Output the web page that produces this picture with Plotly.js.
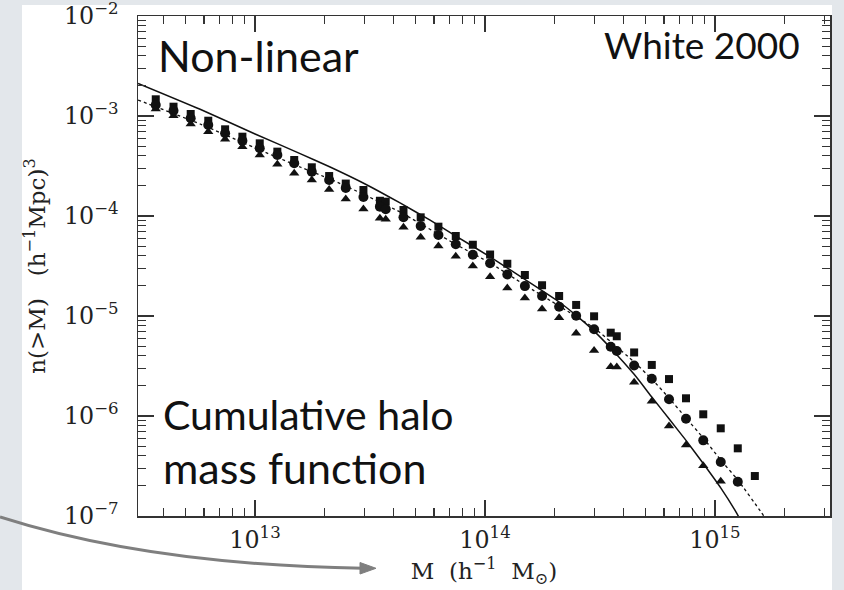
<!DOCTYPE html>
<html>
<head>
<meta charset="utf-8">
<script src="https://cdn.plot.ly/plotly-3.0.1.min.js"></script>
<style>
  html, body { margin: 0; padding: 0; background: #e3e7eb; }
  #chart { width: 844px; height: 590px; }
</style>
</head>
<body>
<div id="chart"></div>
<script>
// Mass bins (h^-1 Msun) of the simulation points (three overlapping boxes)
const massBins = [
  3.70e12, 4.42e12, 5.25e12, 6.26e12, 7.41e12, 8.81e12, 1.048e13, 1.25e13, 1.48e13, 1.765e13, 2.10e13, 2.48e13, 2.96e13, 3.49e13,
  3.70e13, 4.42e13, 5.25e13, 6.27e13, 7.46e13, 8.85e13, 1.052e14, 1.25e14, 1.49e14, 1.77e14, 2.10e14, 2.49e14, 2.98e14, 3.52e14,
  3.74e14, 4.45e14, 5.31e14, 6.31e14, 7.48e14, 8.89e14, 1.059e15, 1.256e15, 1.49e15
];
// n(>M) (h^-1 Mpc)^-3
const squares = [
  1.469e-3, 1.239e-3, 1.047e-3, 8.97e-4, 7.36e-4, 6.21e-4, 5.33e-4, 4.40e-4, 3.63e-4, 3.07e-4, 2.51e-4, 2.11e-4, 1.82e-4, 1.42e-4,
  1.39e-4, 1.148e-4, 9.70e-5, 7.82e-5, 6.31e-5, 5.16e-5, 4.12e-5, 3.33e-5, 2.57e-5, 2.03e-5, 1.585e-5, 1.29e-5, 9.93e-6, 6.81e-6,
  6.27e-6, 4.32e-6, 3.24e-6, 2.34e-6, 1.503e-6, 1.04e-6, 7.53e-7, 4.75e-7, 2.51e-7
];
const circles = [
  1.288e-3, 1.130e-3, 9.48e-4, 8.13e-4, 6.71e-4, 5.66e-4, 4.75e-4, 4.07e-4, 3.37e-4, 2.77e-4, 2.29e-4, 1.91e-4, 1.55e-4, 1.24e-4,
  1.167e-4, 9.70e-5, 7.94e-5, 6.46e-5, 5.22e-5, 4.10e-5, 3.37e-5, 2.60e-5, 1.99e-5, 1.585e-5, 1.239e-5, 1.005e-5, 7.36e-6, 4.93e-6,
  4.47e-6, 3.20e-6, 2.36e-6, 1.469e-6, 9.40e-7, 5.71e-7, 3.47e-7, 2.20e-7, null
];
const triangles = [
  1.175e-3, 1.007e-3, 8.32e-4, 6.97e-4, 5.85e-4, 4.93e-4, 4.07e-4, 3.29e-4, 2.67e-4, 2.29e-4, 1.84e-4, 1.48e-4, 1.175e-4, 9.48e-5,
  9.27e-5, 7.71e-5, 6.12e-5, 5.01e-5, 3.95e-5, 3.17e-5, 2.47e-5, 1.905e-5, 1.514e-5, 1.172e-5, 9.62e-6, 6.71e-6, 4.53e-6, 3.11e-6,
  3.09e-6, 2.18e-6, 1.406e-6, 7.94e-7, 5.13e-7, 3.18e-7, 2.22e-7, null, null
];
// Solid theory curve
const solidMass = [3.10e12, 5.77e12, 1.0e13, 1.57e13, 2.12e13, 3.01e13, 4.27e13, 5.77e13, 7.41e13, 1.052e14, 1.49e14, 2.10e14,
  2.49e14, 2.98e14, 3.53e14, 4.45e14, 5.31e14, 6.31e14, 7.48e14, 8.89e14, 1.059e15, 1.233e15, 1.42e15];
const solidN = [2.12e-3, 1.167e-3, 6.61e-4, 4.21e-4, 3.09e-4, 2.09e-4, 1.35e-4, 9.08e-5, 6.38e-5, 3.90e-5, 2.32e-5, 1.38e-5,
  1.014e-5, 7.06e-6, 4.74e-6, 2.61e-6, 1.549e-6, 9.38e-7, 5.70e-7, 3.35e-7, 1.91e-7, 1.10e-7, 6.03e-8];
// Dotted theory curve
const dottedMass = [3.10e12, 5.77e12, 1.0e13, 1.57e13, 2.12e13, 3.01e13, 4.27e13, 7.41e13, 1.052e14, 1.49e14, 2.10e14, 2.98e14,
  3.53e14, 4.45e14, 5.31e14, 6.31e14, 7.48e14, 8.89e14, 1.059e15, 1.256e15, 1.596e15, 1.82e15];
const dottedN = [1.445e-3, 8.32e-4, 4.79e-4, 3.09e-4, 2.34e-4, 1.62e-4, 1.096e-4, 5.25e-5, 3.39e-5, 2.04e-5, 1.259e-5, 7.59e-6,
  5.50e-6, 3.47e-6, 2.34e-6, 1.514e-6, 9.55e-7, 6.03e-7, 3.63e-7, 2.29e-7, 1.072e-7, 6.76e-8];

const xTitle = 'M\u00a0\u00a0(h<sup>\u22121</sup>\u00a0\u00a0M<sub>\u2299</sub>)';
const yTitle = 'n(>M)\u00a0\u00a0\u00a0(h<sup>\u22121</sup>Mpc)<sup>3</sup>';

// pixel -> paper helpers for decoration placement
const PL = 138, PR = 830, PT = 16, PB = 516;
const X = p => (p - PL) / (PR - PL);
const Y = p => (PB - p) / (PB - PT);

const ink = '#111';
const traces = [
  {x: solidMass, y: solidN, mode: 'lines', line: {color: ink, width: 1.5, shape: 'spline', smoothing: 0.5}, hoverinfo: 'skip'},
  {x: dottedMass, y: dottedN, mode: 'lines', line: {color: ink, width: 1.3, dash: 'dot', shape: 'spline', smoothing: 0.5}, hoverinfo: 'skip'},
  {x: massBins, y: squares, mode: 'markers', marker: {symbol: 'square', size: 8, color: ink}},
  {x: massBins, y: circles, mode: 'markers', marker: {symbol: 'circle', size: 10, color: ink}},
  {x: massBins, y: triangles, mode: 'markers', marker: {symbol: 'triangle-up', size: 9, color: ink}}
];

const axisCommon = {
  type: 'log', dtick: 1, exponentformat: 'power',
  showline: true, linecolor: '#333', linewidth: 1.5, mirror: 'allticks',
  ticks: 'inside', ticklen: 16, tickwidth: 1.2, tickcolor: '#333',
  minor: {ticks: 'inside', ticklen: 8, tickwidth: 1.1, tickcolor: '#333', dtick: 'D1', showgrid: false},
  showgrid: false, zeroline: false, ticklabeloverflow: 'allow',
  tickfont: {family: 'DejaVu Serif', size: 19, color: '#222'}
};

const layout = {
  width: 844, height: 590,
  margin: {l: PL, r: 844 - PR, t: PT, b: 590 - PB, pad: 0},
  paper_bgcolor: '#e3e7eb',
  plot_bgcolor: 'white',
  showlegend: false,
  xaxis: Object.assign({}, axisCommon, {
    range: [12.491, 15.5],
    ticklabelstandoff: 3,
    title: {text: xTitle, font: {family: 'DejaVu Serif', size: 23, color: '#222'}, standoff: 8}
  }),
  yaxis: Object.assign({}, axisCommon, {
    range: [-7, -2],
    ticklabelstandoff: 14,
    title: {text: yTitle, font: {family: 'DejaVu Serif', size: 23, color: '#222'}, standoff: 12}
  }),
  shapes: [
    {type: 'rect', xref: 'paper', yref: 'paper', x0: X(22), x1: X(832), y0: Y(5), y1: Y(600),
     fillcolor: 'white', line: {width: 0}, layer: 'below'},
    {type: 'path', xref: 'paper', yref: 'paper', layer: 'above',
     path: `M ${X(0)},${Y(517)} Q ${X(150)},${Y(565)} ${X(363)},${Y(568.3)}`,
     line: {color: '#7f7f7f', width: 3}},
    {type: 'path', xref: 'paper', yref: 'paper', layer: 'above',
     path: `M ${X(360)},${Y(562.5)} L ${X(376)},${Y(568.3)} L ${X(360)},${Y(574)} Z`,
     fillcolor: '#7f7f7f', line: {color: '#7f7f7f', width: 1}}
  ],
  annotations: [
    {xref: 'paper', yref: 'paper', x: X(156), y: Y(56), xanchor: 'left', yanchor: 'middle', showarrow: false,
     text: 'Non-linear', font: {family: 'Lato', size: 43, color: '#111'}},
    {xref: 'paper', yref: 'paper', x: X(802), y: Y(44), xanchor: 'right', yanchor: 'middle', showarrow: false,
     text: 'White 2000', font: {family: 'Lato', size: 37, color: '#111'}},
    {xref: 'paper', yref: 'paper', x: X(161), y: Y(414), xanchor: 'left', yanchor: 'middle', showarrow: false,
     text: 'Cumulative halo', font: {family: 'Lato', size: 41, color: '#111'}},
    {xref: 'paper', yref: 'paper', x: X(161), y: Y(467), xanchor: 'left', yanchor: 'middle', showarrow: false,
     text: 'mass function', font: {family: 'Lato', size: 43, color: '#111'}}
  ]
};

Plotly.newPlot('chart', traces, layout, {displayModeBar: false, staticPlot: true});
</script>
</body>
</html>
